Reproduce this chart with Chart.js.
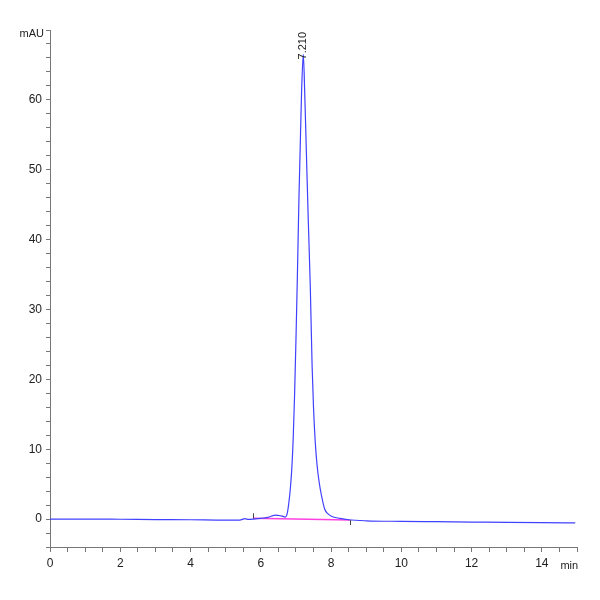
<!DOCTYPE html>
<html>
<head>
<meta charset="utf-8">
<script src="https://cdn.jsdelivr.net/npm/chart.js@4"></script>
<style>
  html, body { margin: 0; padding: 0; background: #fff; }
</style>
</head>
<body>
<canvas id="chart" width="600" height="600"></canvas>
<script>
// =============================
// DATOS
// =============================
const tiempo = [0, 1, 2, 3, 4, 5, 5.4, 5.55, 5.65, 5.8, 6.0, 6.2, 6.43, 6.58, 6.70, 6.76, 6.80, 6.84, 6.88, 6.92, 6.96, 7.00, 7.04, 7.085, 7.12, 7.16, 7.21, 7.25, 7.30, 7.35, 7.41, 7.46, 7.50, 7.55, 7.60, 7.66, 7.73, 7.82, 7.9, 8.01, 8.25, 8.5, 9, 10, 11, 12, 13, 14, 14.95];
const senal = [0, 0, -0.03, -0.07, -0.1, -0.15, -0.15, 0.05, -0.05, 0, 0.1, 0.25, 0.57, 0.45, 0.29, 1.0, 2.4, 4.3, 7.0, 11.2, 17.5, 25.5, 34.5, 45.7, 52.9, 61, 66.5, 61, 52, 43, 33, 22, 16, 11, 7.8, 5.3, 3.3, 1.4, 0.8, 0.4, 0.1, -0.1, -0.25, -0.33, -0.38, -0.43, -0.48, -0.52, -0.55];

const lineaBaseX = [5.78, 8.53];
const lineaBaseY = [0.1, -0.14];

const picoTR = 7.21;
const picoAltura = 66.5;
const picoEtiqueta = "7.210";

const ticksX = [0, 2, 4, 6, 8, 10, 12, 14];
const ticksY = [0, 10, 20, 30, 40, 50, 60];
const unidadY = "mAU";
const unidadX = "min";

const fuente = "'Liberation Sans Narrow', 'Liberation Sans', Arial, sans-serif";

// =============================
// PLUGIN ANOTACIONES
// =============================
const anotaciones = {
  id: "anotaciones",
  afterDatasetsDraw(chart) {
    const { ctx, scales: { x, y } } = chart;
    ctx.save();

    // marcas de integracion
    ctx.strokeStyle = "#444";
    ctx.lineWidth = 1;
    const x1 = Math.round(x.getPixelForValue(lineaBaseX[0])) + 0.5;
    const y1 = y.getPixelForValue(lineaBaseY[0]);
    ctx.beginPath();
    ctx.moveTo(x1, y1 - 5);
    ctx.lineTo(x1, y1);
    const x2 = Math.round(x.getPixelForValue(lineaBaseX[1])) + 0.5;
    const y2 = y.getPixelForValue(lineaBaseY[1]);
    ctx.moveTo(x2, y2);
    ctx.lineTo(x2, y2 + 5);
    ctx.stroke();

    // etiqueta del pico
    const px = x.getPixelForValue(picoTR);
    const py = y.getPixelForValue(picoAltura);
    ctx.translate(px, py + 5);
    ctx.rotate(-Math.PI / 2);
    ctx.fillStyle = "#222";
    ctx.font = "11px " + fuente;
    ctx.textAlign = "left";
    ctx.textBaseline = "middle";
    ctx.fillText(picoEtiqueta, 0, 0);
    ctx.restore();

    // unidades
    ctx.save();
    ctx.fillStyle = "#222";
    ctx.font = "11px " + fuente;
    ctx.textAlign = "right";
    ctx.textBaseline = "middle";
    ctx.fillText(unidadY, x.left - 6, y.getPixelForValue(70) + 4);
    ctx.textAlign = "center";
    ctx.textBaseline = "top";
    ctx.fillText(unidadX, x.getPixelForValue(14.78), y.bottom + 13);
    ctx.restore();
  }
};

// =============================
// GRAFICO
// =============================
new Chart(document.getElementById("chart"), {
  type: "line",
  data: {
    datasets: [
      {
        data: tiempo.map((t, i) => ({ x: t, y: senal[i] })),
        borderColor: "#4040ff",
        borderWidth: 1.2,
        pointRadius: 0,
        cubicInterpolationMode: "monotone",
        fill: false
      },
      {
        data: lineaBaseX.map((t, i) => ({ x: t, y: lineaBaseY[i] })),
        borderColor: "#ff40e0",
        borderWidth: 1.5,
        pointRadius: 0,
        fill: false
      }
    ]
  },
  options: {
    responsive: false,
    animation: false,
    devicePixelRatio: 1,
    layout: { padding: { top: 30, right: 23, left: 0, bottom: 0 } },
    plugins: {
      legend: { display: false },
      tooltip: { enabled: false }
    },
    scales: {
      x: {
        type: "linear",
        min: 0,
        max: 15,
        afterFit: s => { s.height = 53; },
        afterBuildTicks: s => {
          const t = [];
          for (let v = 0; v <= 15; v += 0.5) t.push({ value: v });
          s.ticks = t;
        },
        border: { color: "#777", width: 1 },
        grid: { drawOnChartArea: false, drawTicks: true, tickLength: 5, color: "#777" },
        ticks: {
          autoSkip: false,
          maxRotation: 0,
          color: "#222",
          font: { family: fuente, size: 12 },
          padding: 4,
          callback: v => ticksX.includes(v) ? String(v) : ""
        }
      },
      y: {
        type: "linear",
        min: -4,
        max: 70,
        afterFit: s => { s.width = 50; },
        afterBuildTicks: s => {
          const t = [];
          for (let v = -4; v <= 70; v += 2) t.push({ value: v });
          s.ticks = t;
        },
        border: { color: "#777", width: 1 },
        grid: { drawOnChartArea: false, drawTicks: true, tickLength: 4, color: "#777" },
        ticks: {
          autoSkip: false,
          color: "#222",
          font: { family: fuente, size: 12 },
          padding: 4,
          callback: v => ticksY.includes(v) ? String(v) : ""
        }
      }
    }
  },
  plugins: [anotaciones]
});
</script>
</body>
</html>
